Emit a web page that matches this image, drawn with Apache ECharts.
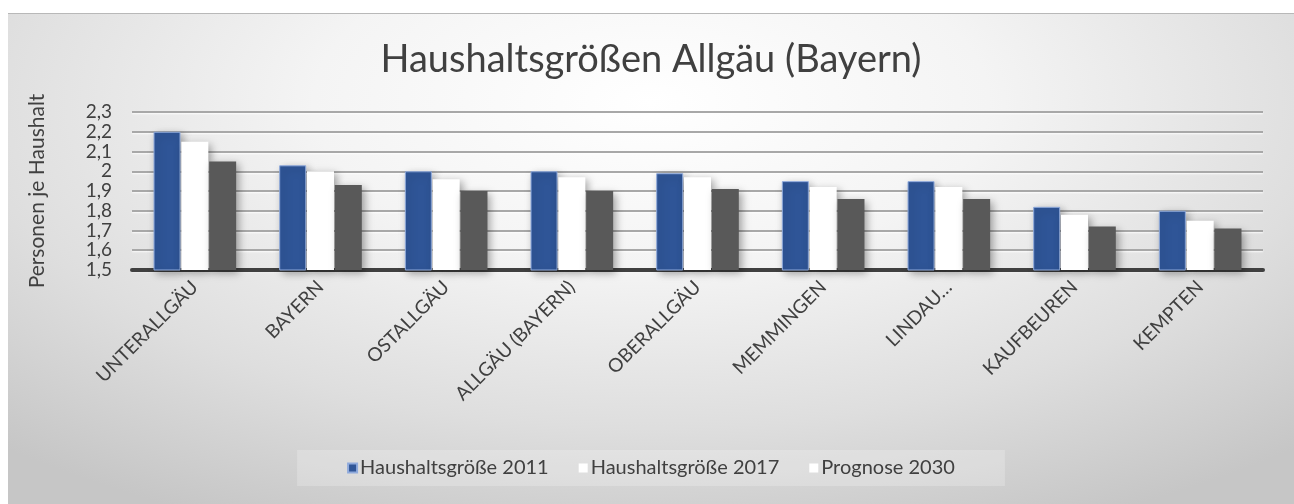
<!DOCTYPE html>
<html>
<head>
<meta charset="utf-8">
<script src="https://cdn.jsdelivr.net/npm/echarts@6/dist/echarts.min.js"></script>
<style>
  html, body { margin: 0; padding: 0; background: #ffffff; }
  #main {
    position: absolute; left: 8px; top: 13px; width: 1286px; height: 491px;
    border-top: 1px solid #b8b8b8; box-sizing: border-box;
    background: radial-gradient(ellipse 75% 95% at 50% 18%, #ffffff 0%, #f4f4f4 35%, #dedede 70%, #c6c6c6 100%);
  }
</style>
</head>
<body>
<div id="main"></div>
<script>
// Kategorien (Landkreise / Städte)
const regionen = ['UNTERALLGÄU', 'BAYERN', 'OSTALLGÄU', 'ALLGÄU (BAYERN)', 'OBERALLGÄU', 'MEMMINGEN', 'LINDAU…', 'KAUFBEUREN', 'KEMPTEN'];
// Personen je Haushalt
const groesse2011 = [2.20, 2.03, 2.00, 2.00, 1.99, 1.95, 1.95, 1.82, 1.80];
const groesse2017 = [2.15, 2.00, 1.96, 1.97, 1.97, 1.92, 1.92, 1.78, 1.75];
const prognose2030 = [2.05, 1.93, 1.90, 1.90, 1.91, 1.86, 1.86, 1.72, 1.71];

const textFarbe = '#404040';
const schrift = 'Lato, "Noto Sans", sans-serif';
const schatten = { shadowBlur: 8, shadowColor: 'rgba(0,0,0,0.35)', shadowOffsetX: 3, shadowOffsetY: 3 };

const myChart = echarts.init(document.getElementById('main'));
myChart.setOption({
  backgroundColor: 'transparent',
  textStyle: { fontFamily: schrift, color: textFarbe },
  title: {
    text: 'Haushaltsgrößen Allgäu (Bayern)',
    left: 'center', top: 22,
    textStyle: { fontFamily: schrift, fontSize: 38, fontWeight: 'normal', color: textFarbe }
  },
  legend: {
    bottom: 18, left: 'center',
    itemWidth: 9, itemHeight: 9, itemGap: 30,
    backgroundColor: 'rgba(255,255,255,0.22)',
    padding: [8, 50],
    textStyle: { fontFamily: schrift, fontSize: 20, color: textFarbe, padding: [0, 0, 0, -2] },
    data: [
      { name: 'Haushaltsgröße 2011', icon: 'rect' },
      { name: 'Haushaltsgröße 2017', icon: 'rect', itemStyle: { color: '#ffffff' } },
      { name: 'Prognose 2030', icon: 'rect', itemStyle: { color: '#ffffff' } }
    ]
  },
  grid: { left: 124, right: 31, top: 98, bottom: 234 },
  xAxis: {
    type: 'category',
    data: regionen,
    axisLine: { lineStyle: { color: '#404040', width: 4 } },
    axisTick: { show: false },
    axisLabel: { rotate: 45, margin: 14, fontSize: 19, color: textFarbe, fontFamily: schrift, interval: 0 }
  },
  yAxis: {
    type: 'value',
    min: 1.5, max: 2.3, interval: 0.1,
    name: 'Personen je Haushalt',
    nameLocation: 'middle', nameGap: 84, nameRotate: 90,
    nameTextStyle: { fontSize: 21, color: textFarbe, fontFamily: schrift },
    axisLine: { show: false },
    axisTick: { show: false },
    axisLabel: {
      margin: 20, fontSize: 19, lineHeight: 14, color: textFarbe, fontFamily: schrift,
      showMinLabel: true, showMaxLabel: true,
      formatter: v => String(Math.round(v * 10) / 10).replace('.', ',')
    },
    splitLine: { lineStyle: { color: '#a8a8a8', width: 2, shadowBlur: 2, shadowColor: 'rgba(255,255,255,0.9)', shadowOffsetY: 1 } }
  },
  series: [
    {
      name: 'Haushaltsgröße 2011', type: 'bar', data: groesse2011,
      barWidth: 27, barGap: '3%',
      itemStyle: Object.assign({ color: '#2f5597', borderColor: '#8faadc', borderWidth: 1 }, schatten)
    },
    {
      name: 'Haushaltsgröße 2017', type: 'bar', data: groesse2017,
      barWidth: 27, barGap: '3%',
      itemStyle: Object.assign({ color: '#ffffff' }, schatten)
    },
    {
      name: 'Prognose 2030', type: 'bar', data: prognose2030,
      barWidth: 27, barGap: '3%',
      itemStyle: Object.assign({ color: '#595959' }, schatten)
    }
  ]
});
</script>
</body>
</html>
